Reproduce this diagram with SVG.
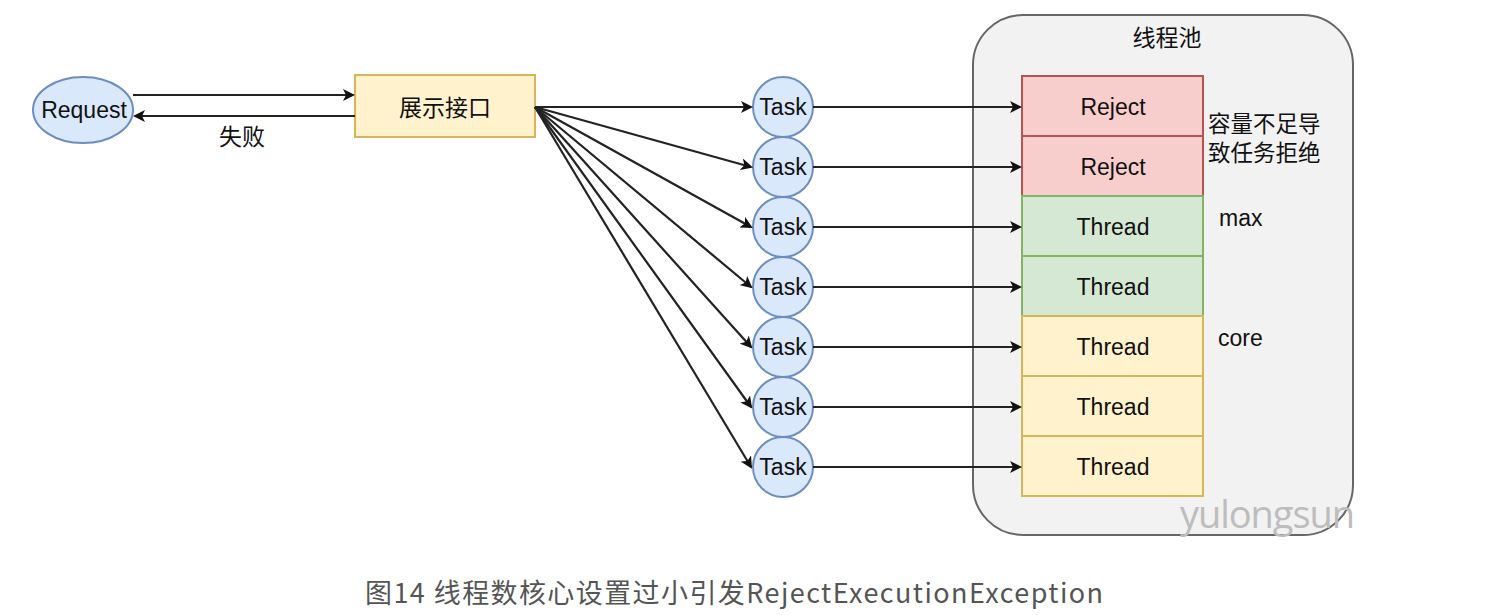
<svg xmlns="http://www.w3.org/2000/svg" width="1498" height="615" viewBox="0 0 1498 615">
<style>
text{font-family:"Liberation Sans","Noto Sans CJK SC",sans-serif;font-size:23px;fill:#111;}
.c{text-anchor:middle;dominant-baseline:central;}
.cjk{font-family:"Noto Sans CJK SC","Liberation Sans",sans-serif;}
.side{font-size:22.5px;}
.task{fill:#dae8fc;stroke:#6c8ebf;stroke-width:2;}
.red{fill:#f8cecc;stroke:#b85450;stroke-width:2;}
.green{fill:#d5e8d4;stroke:#82b366;stroke-width:2;}
.yellow{fill:#fff2cc;stroke:#d6b656;stroke-width:2;}
.edge{stroke:#222;stroke-width:2.2;fill:none;marker-end:url(#arr);}
</style>
<defs>
<marker id="arr" markerWidth="12" markerHeight="12" refX="10" refY="6" orient="auto" markerUnits="userSpaceOnUse">
<path d="M0,0 L12,6 L0,12 L3,6 Z" fill="#111"/>
</marker>
</defs>
<rect width="1498" height="615" fill="#fff"/>
<g id="pool">
<rect x="973" y="15" width="380" height="520" rx="50" fill="#f2f2f2" stroke="#666" stroke-width="2"/>
<text x="1167" y="36" class="c cjk">线程池</text>
</g>
<g id="request">
<ellipse cx="83" cy="110" rx="50" ry="33" class="task"/>
<text x="84" y="110" class="c">Request</text>
</g>
<g id="api">
<rect x="355" y="75" width="180" height="62" class="yellow"/>
<text x="445" y="106" class="c cjk">展示接口</text>
</g>
<g id="tasks">
<g id="task1"><circle cx="783" cy="107" r="30" class="task"/><text x="783" y="107" class="c">Task</text></g>
<g id="task2"><circle cx="783" cy="167" r="30" class="task"/><text x="783" y="167" class="c">Task</text></g>
<g id="task3"><circle cx="783" cy="227" r="30" class="task"/><text x="783" y="227" class="c">Task</text></g>
<g id="task4"><circle cx="783" cy="287" r="30" class="task"/><text x="783" y="287" class="c">Task</text></g>
<g id="task5"><circle cx="783" cy="347" r="30" class="task"/><text x="783" y="347" class="c">Task</text></g>
<g id="task6"><circle cx="783" cy="407" r="30" class="task"/><text x="783" y="407" class="c">Task</text></g>
<g id="task7"><circle cx="783" cy="467" r="30" class="task"/><text x="783" y="467" class="c">Task</text></g>
</g>
<g id="slots">
<g id="slot1"><rect x="1022" y="76" width="181" height="60" class="red"/><text x="1113" y="107" class="c">Reject</text></g>
<g id="slot2"><rect x="1022" y="136" width="181" height="60" class="red"/><text x="1113" y="167" class="c">Reject</text></g>
<g id="slot3"><rect x="1022" y="196" width="181" height="60" class="green"/><text x="1113" y="227" class="c">Thread</text></g>
<g id="slot4"><rect x="1022" y="256" width="181" height="60" class="green"/><text x="1113" y="287" class="c">Thread</text></g>
<g id="slot5"><rect x="1022" y="316" width="181" height="60" class="yellow"/><text x="1113" y="347" class="c">Thread</text></g>
<g id="slot6"><rect x="1022" y="376" width="181" height="60" class="yellow"/><text x="1113" y="407" class="c">Thread</text></g>
<g id="slot7"><rect x="1022" y="436" width="181" height="60" class="yellow"/><text x="1113" y="467" class="c">Thread</text></g>
</g>
<g id="labels">
<text x="1208" y="132" class="cjk side">容量不足导</text>
<text x="1208" y="161" class="cjk side">致任务拒绝</text>
<text x="1219" y="218" dominant-baseline="central">max</text>
<text x="1218" y="338" dominant-baseline="central">core</text>
</g>
<g id="connectors">
<line x1="133" y1="95" x2="353" y2="95" class="edge"/>
<line x1="355" y1="116" x2="135" y2="116" class="edge"/>
<text x="242" y="135" class="c cjk">失败</text>
<line x1="535" y1="107" x2="751" y2="107" class="edge"/>
<line x1="535" y1="107" x2="751" y2="167" class="edge"/>
<line x1="535" y1="107" x2="751" y2="227" class="edge"/>
<line x1="535" y1="107" x2="751" y2="287" class="edge"/>
<line x1="535" y1="107" x2="751" y2="347" class="edge"/>
<line x1="535" y1="107" x2="751" y2="407" class="edge"/>
<line x1="535" y1="107" x2="751" y2="467" class="edge"/>
<line x1="813" y1="107" x2="1020" y2="107" class="edge"/>
<line x1="813" y1="167" x2="1020" y2="167" class="edge"/>
<line x1="813" y1="227" x2="1020" y2="227" class="edge"/>
<line x1="813" y1="287" x2="1020" y2="287" class="edge"/>
<line x1="813" y1="347" x2="1020" y2="347" class="edge"/>
<line x1="813" y1="407" x2="1020" y2="407" class="edge"/>
<line x1="813" y1="467" x2="1020" y2="467" class="edge"/>
</g>
<text x="1180" y="528" textLength="175" style="font-family:'Open Sans','Noto Sans',sans-serif;font-size:38px;fill:#bdbdbd;">yulongsun</text>
<text x="365" y="603" textLength="738" style="font-family:'Noto Sans CJK SC','Noto Sans',sans-serif;font-size:27px;fill:#555;">图14 线程数核心设置过小引发RejectExecutionException</text>
</svg>
